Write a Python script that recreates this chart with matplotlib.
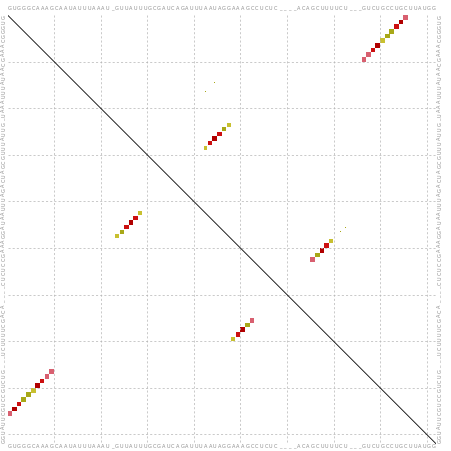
import numpy as np
import matplotlib
matplotlib.use("Agg")
import matplotlib.pyplot as plt
from matplotlib.patches import Rectangle

# alignment consensus, one character per column
sequence = "GUGGGCAAAGCAAUAUUUAAAU_GUUAUUUGCGAUCAGAUUUAAUAGGAAAGCCUCUC____ACAGCUUUUCU___GUCUGCCUGCUUAUGG"

# base pairs (i < j), pair probability and colour class
pair_i = [1, 2, 3, 4, 5, 6, 7, 8, 9, 10,
          24, 25, 26, 27, 28, 29,
          49, 50, 51, 52, 53,
          15, 17, 46, 47]
pair_j = [86, 85, 84, 83, 82, 81, 80, 79, 78, 77,
          48, 47, 46, 45, 44, 43,
          70, 69, 68, 67, 66,
          45, 43, 73, 72]
pair_prob = [0.98, 0.75, 0.8, 0.85, 0.9, 0.9, 0.9, 0.6, 0.8, 0.85,
             0.6, 0.65, 0.8, 0.85, 0.7, 0.5,
             0.6, 0.8, 0.9, 0.8, 0.75,
             0.03, 0.03, 0.03, 0.03]
pair_class = ["pink", "dark", "red", "olive", "olive", "yellow", "dark", "red", "pink", "pink",
              "yellow", "olive", "red", "dark", "red", "yellow",
              "yellow", "red", "dark", "olive", "pink",
              "olive", "olive", "olive", "olive"]

colours = {"red": "#cc1010", "dark": "#b00000", "olive": "#a8a818",
           "yellow": "#c8c030", "pink": "#d86070"}

n = len(sequence)

fig = plt.figure(figsize=(4.52, 4.51), dpi=100)
ax = fig.add_axes([7.5 / 452, 1 - 443.8 / 451, 428.6 / 452, 428.8 / 451])
ax.set_xlim(0, n)
ax.set_ylim(n, 0)
ax.axis("off")

# dashed grid every 10 columns
for g in range(10, n, 10):
    ax.plot([g, g], [0, n], color="#b4b4b4", lw=0.5, ls=(0, (3, 3)))
    ax.plot([0, n], [g, g], color="#b4b4b4", lw=0.5, ls=(0, (3, 3)))

ax.plot([0, n], [0, n], color="black", lw=0.6)

# squares: upper triangle, strong pairs mirrored in lower triangle
for i, j, p, c in zip(pair_i, pair_j, pair_prob, pair_class):
    s = 1.1 * np.sqrt(p)
    cells = ((i, j), (j, i)) if p > 0.1 else ((i, j),)
    for r, col in cells:
        ax.add_patch(Rectangle((col - 0.5 - s / 2, r - 0.5 - s / 2), s, s,
                               facecolor=colours[c], edgecolor="none"))

# sequence on all four sides
kw = dict(fontsize=3.6, color="#8c8c8c", ha="center", va="center")
for k, ch in enumerate(sequence):
    pos = k + 0.5
    ax.text(pos, -1.3, ch, clip_on=False, **kw)
    ax.text(pos, n + 0.5, ch, clip_on=False, **kw)
    ax.text(-0.8, pos, ch, rotation=90, clip_on=False, **kw)
    ax.text(n + 0.8, pos, ch, rotation=90, clip_on=False, **kw)

fig.savefig("out.png", dpi=100)
